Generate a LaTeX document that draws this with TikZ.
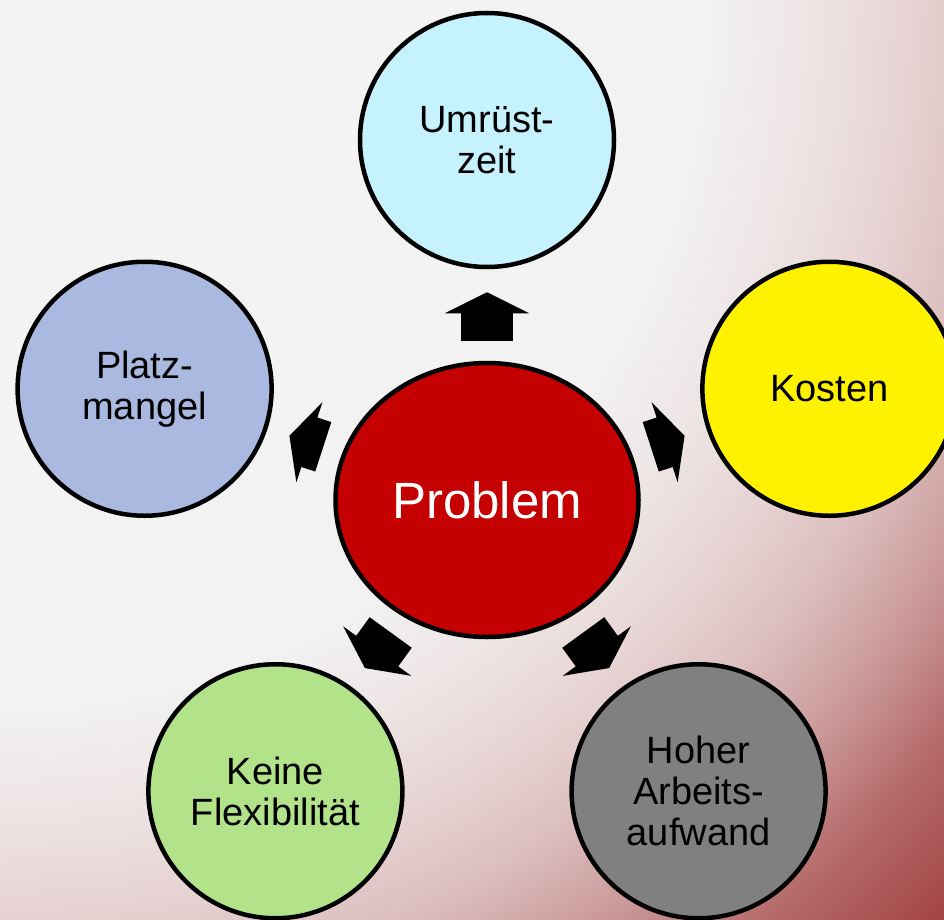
\documentclass[tikz,border=0pt]{standalone}
\usepackage{fontspec}
\setmainfont{Liberation Sans}
\usetikzlibrary{shapes.geometric,arrows.meta}

\definecolor{bgA}{HTML}{F4F4F4}
\definecolor{bgB}{HTML}{F3F2F2}
\definecolor{bgC}{HTML}{EEE6E6}
\definecolor{bgD}{HTML}{E8D5D5}
\definecolor{bgE}{HTML}{DCBEBE}
\definecolor{bgF}{HTML}{CA9898}
\definecolor{bgG}{HTML}{B46868}
\definecolor{bgH}{HTML}{A34444}
\definecolor{probred}{HTML}{C40000}
\definecolor{cyanish}{HTML}{C6F2FE}
\definecolor{blueish}{HTML}{AAB9DF}
\definecolor{greenish}{HTML}{B2E28A}
% radius 25bp = 1320 units
\pgfdeclareradialshading{bgshade}{\pgfpoint{0bp}{0bp}}{color(0bp)=(bgA); color(13.26bp)=(bgB); color(15.15bp)=(bgC); color(17.05bp)=(bgD); color(18.94bp)=(bgE); color(20.83bp)=(bgF); color(22.73bp)=(bgG); color(24.95bp)=(bgH); color(50bp)=(bgH)}

\begin{document}
\begin{tikzpicture}[x=1pt, y=1pt, line width=4.5pt,
	topic/.style={circle, draw, minimum size=254pt, inner sep=0pt, align=center, font=\fontsize{38}{41}\selectfont},
	block arrow/.style={line width=52pt, -{Triangle[length=21pt, width=84pt, line width=2pt]}, shorten <=20pt, shorten >=23pt}]
	\useasboundingbox (-487,-419) rectangle (457,500);
	% background
	\begin{scope}
		\clip (-487,-419) rectangle (457,500);
		\shade[shading=bgshade] (-487-1320,500-1320) rectangle (-487+1320,500+1320);
	\end{scope}

	\node[ellipse, draw, fill=probred, text=white, minimum width=303pt, minimum height=274pt, font=\fontsize{51}{55}\selectfont] (P) at (0,0) {Problem};
	\node[topic, fill=cyanish] (U) at (90:360) {Umrüst-\\zeit};
	\node[topic, fill=yellow] (K) at (18:360) {Kosten};
	\node[topic, fill=gray] (H) at (306:360) {Hoher\\Arbeits-\\aufwand};
	\node[topic, fill=greenish] (F) at (234:360) {Keine\\Flexibilität};
	\node[topic, fill=blueish] (M) at (162:360) {Platz-\\mangel};

	\path[block arrow]
		(P) edge (U)
			edge (K)
			edge (H)
			edge (F)
			edge (M);
\end{tikzpicture}
\end{document}
